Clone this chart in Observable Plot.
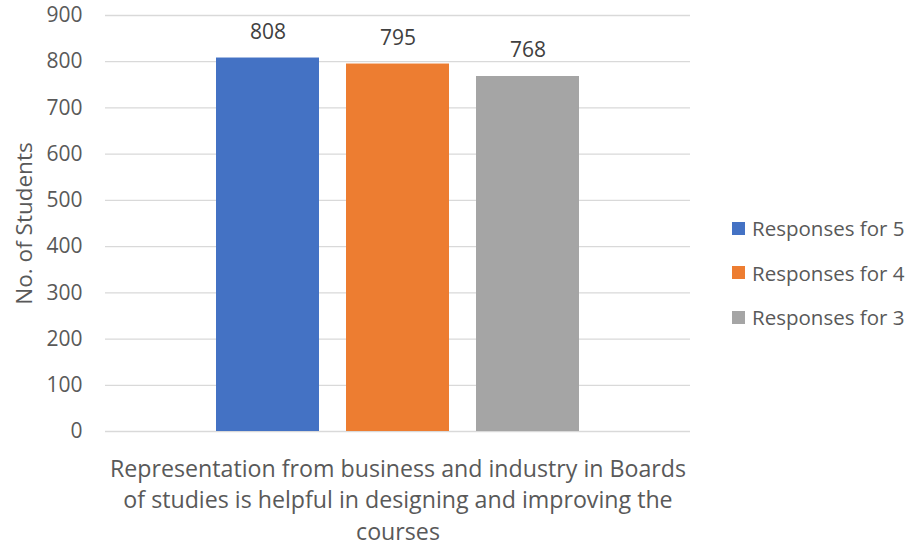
<!DOCTYPE html>
<html>
<head>
<meta charset="utf-8">
<script src="https://cdn.jsdelivr.net/npm/d3@7"></script>
<script src="https://cdn.jsdelivr.net/npm/@observablehq/plot@0.6"></script>
<style>
  body { margin: 0; background: #fff; }
  #wrap { position: relative; width: 911px; height: 547px; font-family: "Open Sans", sans-serif; }
  #legend { position: absolute; left: 732px; top: 206px; color: #595959; font-size: 20.5px; }
  #legend .row { display: flex; align-items: center; height: 44.5px; }
  #legend .sw { width: 13px; height: 13px; margin-right: 7px; }
</style>
</head>
<body>
<div id="wrap"></div>
<script>
const series = ["Responses for 5", "Responses for 4", "Responses for 3"];
const values = [808, 795, 768];
const colors = ["#4472C4", "#ED7D31", "#A5A5A5"];
const yTicks = [0, 100, 200, 300, 400, 500, 600, 700, 800, 900];
const category = "Representation from business and industry in Boards\nof studies is helpful in designing and improving the\ncourses";
const yLabel = "No. of Students";

const data = series.map((s, i) => ({series: s, value: values[i]}));

const chart = Plot.plot({
  width: 911,
  height: 547,
  marginLeft: 105,
  marginRight: 221,
  marginTop: 15,
  marginBottom: 116,
  style: {fontFamily: "Open Sans", fontSize: "20px", color: "#595959", background: "#fff"},
  x: {domain: series, range: [202.5, 592.5], paddingInner: 0.2077, paddingOuter: 0.10385, round: false, axis: null},
  y: {domain: [0, 900], ticks: yTicks, grid: false},
  color: {domain: series, range: colors},
  marks: [
    Plot.ruleY(yTicks, {stroke: "#D9D9D9", strokeWidth: 1.3}),
    Plot.barY(data, {x: "series", y: "value", fill: "series"}),
    Plot.text(data, {x: "series", y: "value", text: d => String(d.value), dy: -26, fill: "#404040", fontSize: 21}),
    Plot.axisY({ticks: yTicks, tickSize: 0, tickPadding: 23, label: null, fontSize: 21, fill: "#595959"}),
    Plot.text([yLabel], {text: d => d, frameAnchor: "left", textAnchor: "middle", dx: -81, rotate: -90, fontSize: 22.5, fill: "#595959"}),
    Plot.text([category], {text: d => d, frameAnchor: "bottom", lineAnchor: "top", dy: 23, lineHeight: 1.36, fontSize: 23.2, fill: "#595959"})
  ]
});

const wrap = document.getElementById("wrap");
wrap.appendChild(chart);

const legend = document.createElement("div");
legend.id = "legend";
series.forEach((s, i) => {
  const row = document.createElement("div");
  row.className = "row";
  const sw = document.createElement("div");
  sw.className = "sw";
  sw.style.background = colors[i];
  const t = document.createElement("span");
  t.textContent = s;
  row.appendChild(sw);
  row.appendChild(t);
  legend.appendChild(row);
});
wrap.appendChild(legend);
</script>
</body>
</html>
